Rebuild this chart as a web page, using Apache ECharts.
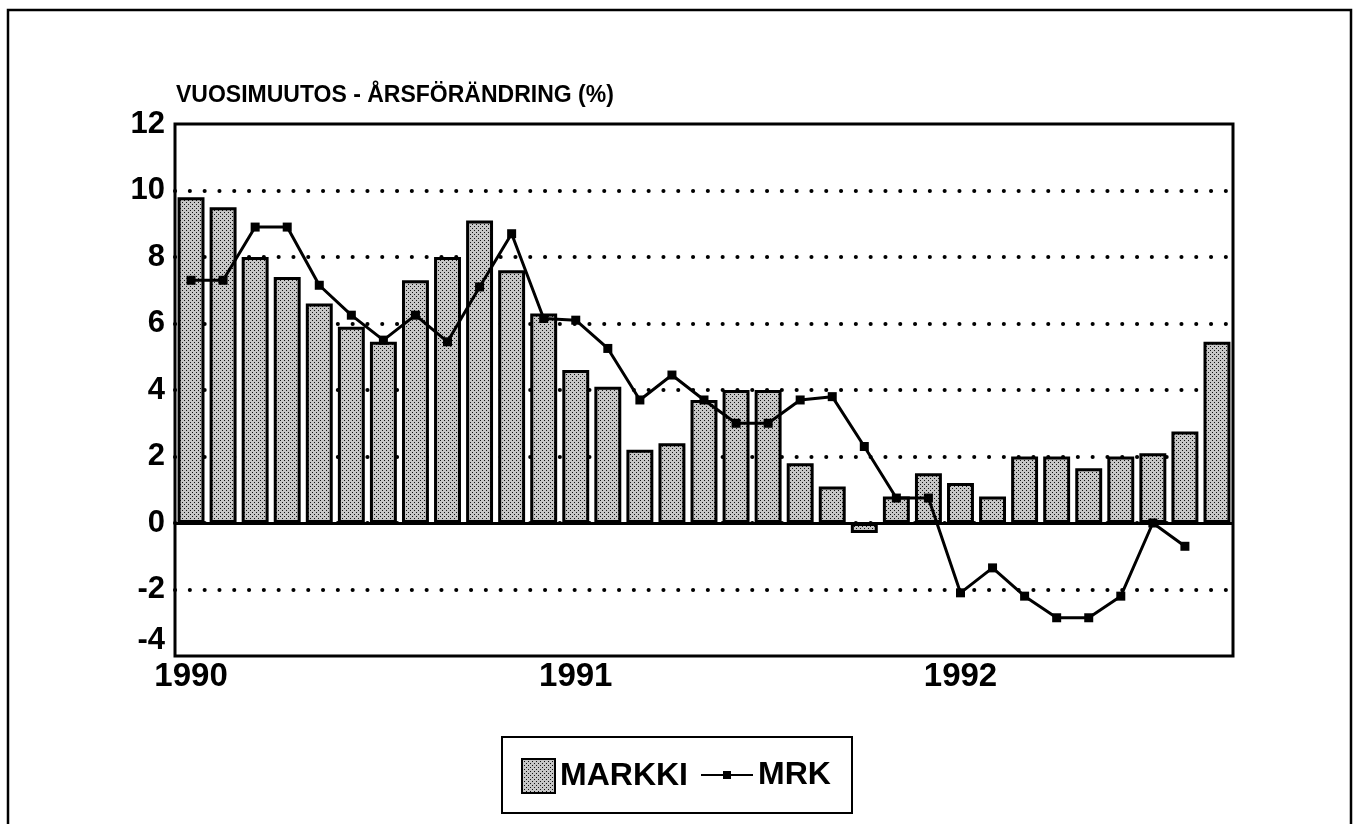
<!DOCTYPE html>
<html>
<head>
<meta charset="utf-8">
<title>Vuosimuutos - Årsförändring</title>
<script src="https://cdn.jsdelivr.net/npm/echarts@6/dist/echarts.min.js"></script>
<style>
	html, body { margin: 0; padding: 0; background: #fff; }
	#chart { width: 1356px; height: 824px; }
</style>
</head>
<body>
<div id="chart"></div>
<script>
	// kuukaudet 1990-01 ... 1992-09
	const months = [
		'1990-01', '1990-02', '1990-03', '1990-04', '1990-05', '1990-06',
		'1990-07', '1990-08', '1990-09', '1990-10', '1990-11', '1990-12',
		'1991-01', '1991-02', '1991-03', '1991-04', '1991-05', '1991-06',
		'1991-07', '1991-08', '1991-09', '1991-10', '1991-11', '1991-12',
		'1992-01', '1992-02', '1992-03', '1992-04', '1992-05', '1992-06',
		'1992-07', '1992-08', '1992-09'
	]

	const markki = [
		9.8, 9.5, 8.0, 7.4, 6.6, 5.9, 5.45, 7.3, 8.0, 9.1, 7.6, 6.3,
		4.6, 4.1, 2.2, 2.4, 3.7, 4.0, 4.0, 1.8, 1.1, -0.3, 0.8, 1.5,
		1.2, 0.8, 2.0, 2.0, 1.65, 2.0, 2.1, 2.75, 5.45
	]

	const mrk = [
		7.3, 7.3, 8.9, 8.9, 7.15, 6.25, 5.5, 6.25, 5.45, 7.1, 8.7, 6.15,
		6.1, 5.25, 3.7, 4.45, 3.7, 3.0, 3.0, 3.7, 3.8, 2.3, 0.75, 0.75,
		-2.1, -1.35, -2.2, -2.85, -2.85, -2.2, 0.0, -0.7, null
	]

	const yearLabels = ['1990', '1991', '1992']

	const font = "'Liberation Sans', Arial, Helvetica, sans-serif"

	// pisterasteri pylväisiin
	const makeStipple = () => {
		const c = document.createElement('canvas')
		c.width = 4
		c.height = 4
		const ctx = c.getContext('2d')
		ctx.fillStyle = '#c6c6c6'
		ctx.fillRect(0, 0, 4, 4)
		ctx.fillStyle = '#111'
		ctx.fillRect(0, 0, 1, 1)
		ctx.fillRect(2, 2, 1, 1)
		return c
	}
	const stipple = { image: makeStipple(), repeat: 'repeat' }

	const legendText = {
		fontFamily: font,
		fontSize: 32,
		fontWeight: 'bold',
		color: '#000'
	}

	const chart = echarts.init(document.getElementById('chart'))

	const option = {
		backgroundColor: '#fff',
		animation: false,
		title: {
			text: 'VUOSIMUUTOS - ÅRSFÖRÄNDRING (%)',
			left: 176,
			top: 84,
			padding: 0,
			textStyle: {
				fontFamily: font,
				fontSize: 23,
				fontWeight: 'bold',
				color: '#000'
			}
		},
		graphic: [
			{
				type: 'rect',
				shape: { x: 8, y: 10, width: 1343, height: 830 },
				style: { fill: 'none', stroke: '#000', lineWidth: 2.5 },
				silent: true
			},
			{
				type: 'rect',
				shape: { x: 502, y: 737, width: 350, height: 76 },
				style: { fill: 'none', stroke: '#000', lineWidth: 2 },
				silent: true
			}
		],
		legend: [
			{
				left: 521,
				top: 758,
				padding: 0,
				itemWidth: 33,
				itemHeight: 34,
				textStyle: legendText,
				data: [{ name: 'MARKKI', icon: 'rect' }]
			},
			{
				left: 700,
				top: 759,
				padding: 0,
				itemWidth: 52,
				itemHeight: 10,
				textStyle: legendText,
				data: [{ name: 'MRK', lineStyle: { width: 2 } }]
			}
		],
		grid: {
			left: 175,
			right: 123,
			top: 124,
			bottom: 168,
			show: true,
			borderColor: '#000',
			borderWidth: 3,
			backgroundColor: 'transparent'
		},
		xAxis: {
			type: 'category',
			data: months,
			boundaryGap: true,
			axisLine: { show: false },
			axisTick: { show: false },
			axisLabel: {
				interval: 0,
				margin: 4,
				fontFamily: font,
				fontSize: 33,
				fontWeight: 'bold',
				color: '#000',
				formatter: (v) => {
					const y = v.slice(0, 4)
					return v.endsWith('-01') && yearLabels.includes(y) ? y : ''
				}
			},
			splitLine: { show: false }
		},
		yAxis: {
			type: 'value',
			min: -4,
			max: 12,
			interval: 2,
			axisLine: { show: false },
			axisTick: { show: false },
			axisLabel: {
				margin: 10,
				fontFamily: font,
				fontSize: 31,
				fontWeight: 'bold',
				color: '#000',
				verticalAlignMinLabel: 'bottom'
			},
			splitLine: {
				show: true,
				showMinLine: false,
				showMaxLine: false,
				lineStyle: {
					color: '#000',
					width: 4,
					type: [0.1, 14.7],
					cap: 'round'
				}
			}
		},
		series: [
			{
				name: 'MARKKI',
				type: 'bar',
				data: markki,
				barCategoryGap: '16%',
				itemStyle: {
					color: stipple,
					borderColor: '#000',
					borderWidth: 3
				},
				markLine: {
					silent: true,
					symbol: 'none',
					label: { show: false },
					lineStyle: { color: '#000', width: 3, type: 'solid' },
					data: [{ yAxis: 0 }]
				},
				z: 2
			},
			{
				name: 'MRK',
				type: 'line',
				data: mrk,
				connectNulls: false,
				symbol: 'rect',
				symbolSize: 9,
				itemStyle: { color: '#000' },
				lineStyle: { color: '#000', width: 3 },
				z: 3
			}
		]
	}

	chart.setOption(option)
</script>
</body>
</html>
